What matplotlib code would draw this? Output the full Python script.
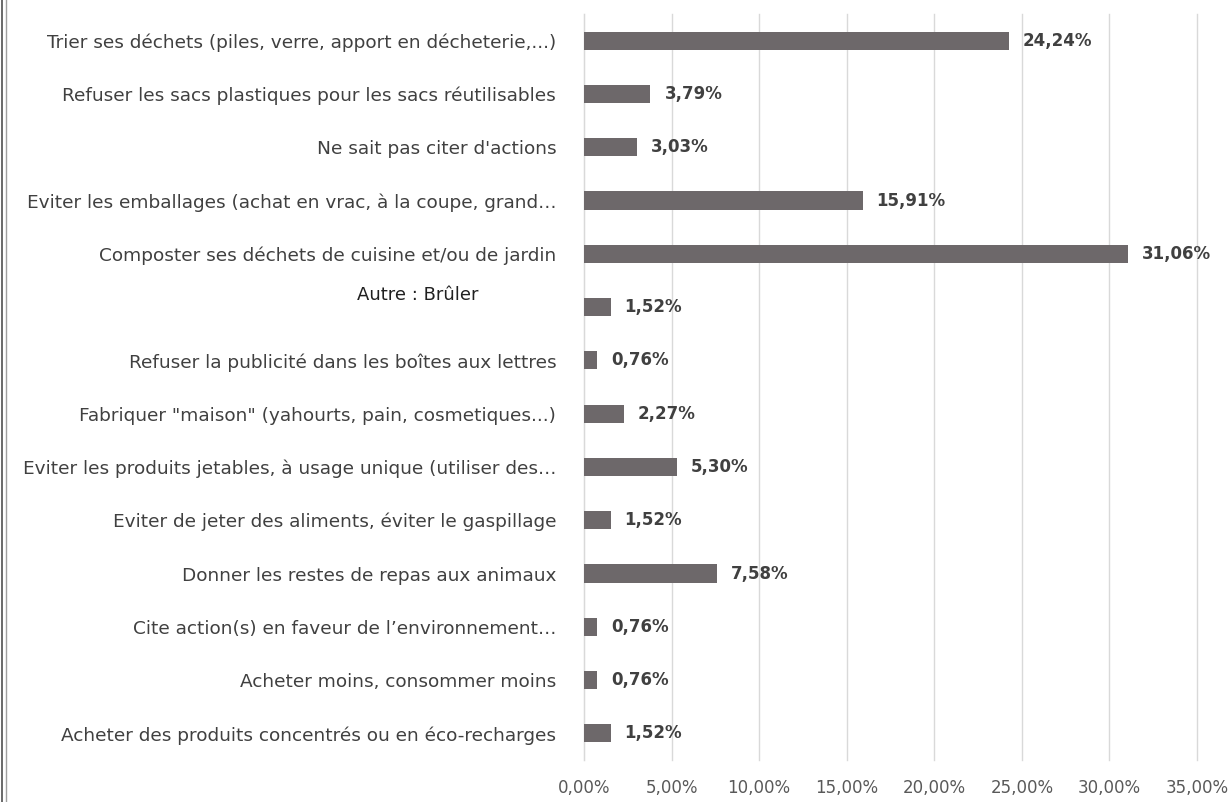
import numpy as np
import matplotlib.pyplot as plt
from matplotlib.lines import Line2D

labels = [
    "Trier ses déchets (piles, verre, apport en décheterie,...)",
    "Refuser les sacs plastiques pour les sacs réutilisables",
    "Ne sait pas citer d'actions",
    "Eviter les emballages (achat en vrac, à la coupe, grand…",
    "Composter ses déchets de cuisine et/ou de jardin",
    "Autre : Brûler",
    "Refuser la publicité dans les boîtes aux lettres",
    "Fabriquer \"maison\" (yahourts, pain, cosmetiques...)",
    "Eviter les produits jetables, à usage unique (utiliser des…",
    "Eviter de jeter des aliments, éviter le gaspillage",
    "Donner les restes de repas aux animaux",
    "Cite action(s) en faveur de l’environnement…",
    "Acheter moins, consommer moins",
    "Acheter des produits concentrés ou en éco-recharges",
]
values = [24.24, 3.79, 3.03, 15.91, 31.06, 1.52, 0.76, 2.27, 5.30, 1.52, 7.58, 0.76, 0.76, 1.52]
xticks = [0, 5, 10, 15, 20, 25, 30, 35]

plt.rcParams['font.family'] = ['DejaVu Sans']

fig = plt.figure(figsize=(12.31, 8.02), dpi=100)
ax = fig.add_axes([584/1231, 1 - 760/802, (1197-584)/1231, (760-14)/802])

y = np.arange(len(labels))
ax.barh(y, values, height=0.34, color='#6d686a', zorder=3)
ax.set_ylim(len(labels) - 0.5, -0.5)
ax.set_xlim(0, 35)

ax.set_yticks(y)
ticklabels = [l if l != "Autre : Brûler" else "" for l in labels]
ax.set_yticklabels(ticklabels, fontsize=13.3, color='#404040')
ax.tick_params(axis='y', length=0, pad=20)
# the "Autre" label sits a bit apart in the original
i_autre = labels.index("Autre : Brûler")
ax.text(-6.0, i_autre - 0.22, "Autre : Brûler", ha='right', va='center',
        fontsize=13, color='#202020')

ax.set_xticks(xticks)
ax.set_xticklabels(['{:.2f}%'.format(t).replace('.', ',') for t in xticks],
                   fontsize=12, color='#595959')
ax.tick_params(axis='x', length=0, pad=14)
ax.grid(axis='x', color='#d9d9d9', lw=1, zorder=0)
for gl in ax.get_xgridlines():
    gl.set_clip_on(False)

for s in ['top', 'right', 'bottom']:
    ax.spines[s].set_visible(False)
ax.spines['left'].set_color('#d9d9d9')

for yi, v in zip(y, values):
    ax.text(v + 0.8, yi, '{:.2f}%'.format(v).replace('.', ','), va='center', ha='left',
            fontsize=12, fontweight='bold', color='#404040')

# left edge border of the original screenshot
fig.lines.append(Line2D([0.002, 0.002], [0, 1], transform=fig.transFigure, color='#505050', lw=1.2))
fig.lines.append(Line2D([0.0045, 0.0045], [0, 1], transform=fig.transFigure, color='#a0a0a0', lw=1))

plt.savefig('out.png', dpi=100)
